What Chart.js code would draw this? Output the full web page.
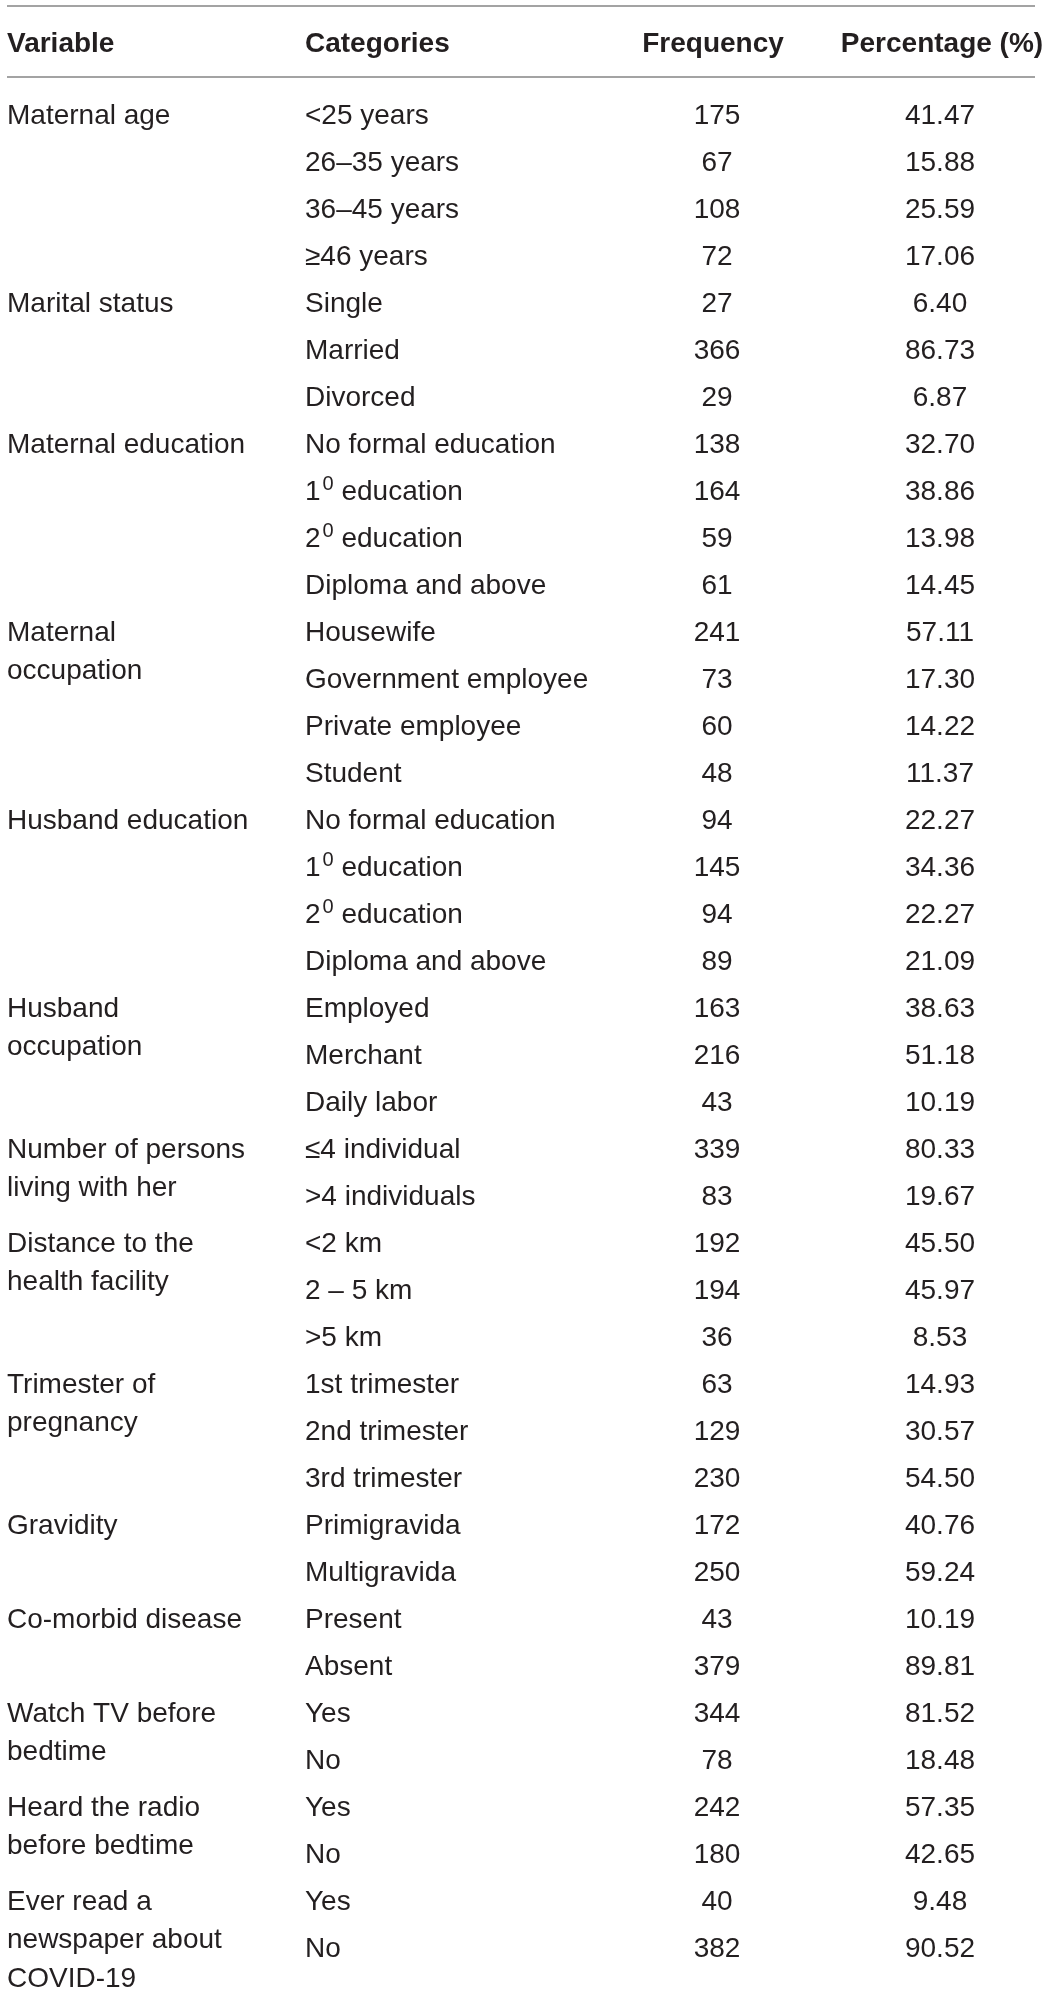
<!DOCTYPE html>
<html>
<head>
<meta charset="utf-8">
<script src="https://cdn.jsdelivr.net/npm/chart.js@4.4.0/dist/chart.umd.min.js"></script>
<style>
    html, body { margin: 0; padding: 0; background: #fff; }
    #wrap { width: 1054px; height: 1991px; position: relative; }
</style>
</head>
<body>
<div id="wrap"><canvas id="tableChart"></canvas></div>
<script>
// ------------------------------------------ table data ------------------------------------------
const headers = ["Variable", "Categories", "Frequency", "Percentage (%)"];

const variables = [
    ["Maternal age"],
    ["Marital status"],
    ["Maternal education"],
    ["Maternal", "occupation"],
    ["Husband education"],
    ["Husband", "occupation"],
    ["Number of persons", "living with her"],
    ["Distance to the", "health facility"],
    ["Trimester of", "pregnancy"],
    ["Gravidity"],
    ["Co-morbid disease"],
    ["Watch TV before", "bedtime"],
    ["Heard the radio", "before bedtime"],
    ["Ever read a", "newspaper about", "COVID-19"]
];
const groupSizes = [4, 3, 4, 4, 4, 3, 2, 3, 3, 2, 2, 2, 2, 2];

const categories = [
    "<25 years", "26–35 years", "36–45 years", "≥46 years",
    "Single", "Married", "Divorced",
    "No formal education", "1⁰ education", "2⁰ education", "Diploma and above",
    "Housewife", "Government employee", "Private employee", "Student",
    "No formal education", "1⁰ education", "2⁰ education", "Diploma and above",
    "Employed", "Merchant", "Daily labor",
    "≤4 individual", ">4 individuals",
    "<2 km", "2 – 5 km", ">5 km",
    "1st trimester", "2nd trimester", "3rd trimester",
    "Primigravida", "Multigravida",
    "Present", "Absent",
    "Yes", "No",
    "Yes", "No",
    "Yes", "No"
];
const frequencies = [
    175, 67, 108, 72,
    27, 366, 29,
    138, 164, 59, 61,
    241, 73, 60, 48,
    94, 145, 94, 89,
    163, 216, 43,
    339, 83,
    192, 194, 36,
    63, 129, 230,
    172, 250,
    43, 379,
    344, 78,
    242, 180,
    40, 382
];
const percentages = [
    41.47, 15.88, 25.59, 17.06,
    6.40, 86.73, 6.87,
    32.70, 38.86, 13.98, 14.45,
    57.11, 17.30, 14.22, 11.37,
    22.27, 34.36, 22.27, 21.09,
    38.63, 51.18, 10.19,
    80.33, 19.67,
    45.50, 45.97, 8.53,
    14.93, 30.57, 54.50,
    40.76, 59.24,
    10.19, 89.81,
    81.52, 18.48,
    57.35, 42.65,
    9.48, 90.52
];

// ------------------------------------------ layout / style ------------------------------------------
const FONT = '"Liberation Sans", Arial, Helvetica, sans-serif';
const TEXT_COLOR = '#231f20';
const RULE_COLOR = '#a3a3a3';
const colX = [7, 305, 717, 940];        // anchors of the four columns on the x scale
const headerX = [7, 305, 713, 942];
const headerRow = -1.52;
const ruleRows = [-2.29, -0.78];
const lineStep = 38.5;                    // px between wrapped lines of a variable name
const baselineShift = 10;

// first row of every variable group
const groupStarts = [];
groupSizes.reduce((acc, n) => { groupStarts.push(acc); return acc + n; }, 0);

// ------------------------------------------ draw text with superscript ------------------------------------------
const drawCell = (ctx, str, x, y, align) => {
    ctx.textAlign = align;
    const parts = str.split('⁰');
    if (parts.length === 1) {
        ctx.fillText(str, x, y);
        return;
    }
    ctx.textAlign = 'left';
    const baseFont = ctx.font;
    ctx.fillText(parts[0], x, y);
    let cx = x + ctx.measureText(parts[0]).width + 2;
    ctx.font = '20px ' + FONT;
    ctx.fillText('0', cx, y - 10);
    cx += ctx.measureText('0').width;
    ctx.font = baseFont;
    ctx.fillText(parts[1], cx, y);
};

// ------------------------------------------ table plugin ------------------------------------------
const tablePlugin = {
    id: 'tableText',
    afterDatasetsDraw(chart) {
        const ctx = chart.ctx;
        const yScale = chart.scales.y;
        const xScale = chart.scales.x;
        ctx.save();

        // rules
        ctx.strokeStyle = RULE_COLOR;
        ctx.lineWidth = 2;
        ruleRows.forEach(r => {
            const py = Math.round(yScale.getPixelForValue(r));
            ctx.beginPath();
            ctx.moveTo(xScale.getPixelForValue(7), py);
            ctx.lineTo(xScale.getPixelForValue(1035), py);
            ctx.stroke();
        });

        // header
        ctx.fillStyle = TEXT_COLOR;
        ctx.font = 'bold 28px ' + FONT;
        ctx.textBaseline = 'alphabetic';
        const hy = yScale.getPixelForValue(headerRow) + baselineShift;
        headers.forEach((h, i) => {
            ctx.textAlign = i < 2 ? 'left' : 'center';
            ctx.fillText(h, xScale.getPixelForValue(headerX[i]), hy);
        });

        // body cells, placed at the points of each dataset
        ctx.font = '28px ' + FONT;
        chart.data.datasets.forEach((ds, d) => {
            const meta = chart.getDatasetMeta(d);
            meta.data.forEach((pt, i) => {
                const lines = ds.texts[i];
                lines.forEach((line, j) => {
                    drawCell(ctx, line, pt.x, pt.y + baselineShift + j * lineStep, ds.align);
                });
            });
        });
        ctx.restore();
    }
};

// ------------------------------------------ chart ------------------------------------------
const rowPoints = (x, rows) => rows.map(r => ({ x: x, y: r }));
const allRows = categories.map((c, i) => i);

new Chart(document.getElementById('tableChart'), {
    type: 'scatter',
    data: {
        datasets: [
            { label: 'Variable', data: rowPoints(colX[0], groupStarts), texts: variables, align: 'left' },
            { label: 'Categories', data: rowPoints(colX[1], allRows), texts: categories.map(c => [c]), align: 'left' },
            { label: 'Frequency', data: rowPoints(colX[2], allRows), texts: frequencies.map(f => [String(f)]), align: 'center' },
            { label: 'Percentage', data: rowPoints(colX[3], allRows), texts: percentages.map(p => [p.toFixed(2)]), align: 'center' }
        ].map(ds => Object.assign(ds, { pointRadius: 0, pointHoverRadius: 0 }))
    },
    options: {
        responsive: true,
        maintainAspectRatio: false,
        animation: false,
        events: [],
        layout: { padding: { top: 1, bottom: 0, left: 0, right: 0 } },
        plugins: { legend: { display: false }, tooltip: { enabled: false } },
        scales: {
            x: { type: 'linear', min: 0, max: 1054, display: false },
            y: { type: 'linear', reverse: true, min: -2.4, max: 39.94, display: false }
        }
    },
    plugins: [tablePlugin]
});
</script>
</body>
</html>
